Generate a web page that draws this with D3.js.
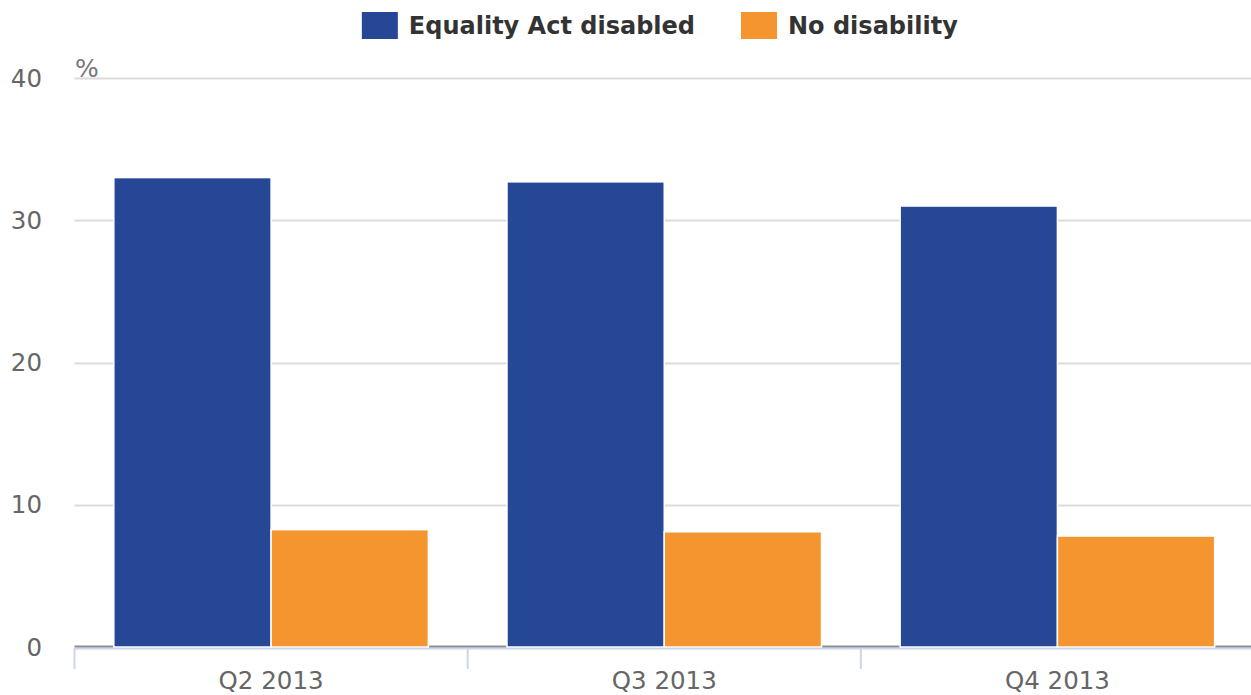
<!DOCTYPE html>
<html><head><meta charset="utf-8">
<script src="https://cdn.jsdelivr.net/npm/d3@7"></script>
<style>body{margin:0;background:#fff}svg{display:block}</style>
</head><body>
<svg id="c" width="1251" height="695"></svg>
<script>
const categories = ["Q2 2013", "Q3 2013", "Q4 2013"];
const seriesNames = ["Equality Act disabled", "No disability"];
const disabled = [33.0, 32.7, 31.0];
const noDisability = [8.25, 8.1, 7.8];
const yTicks = [0, 10, 20, 30, 40];
const colors = ["#264796", "#f59530"];

const svg = d3.select("#c");
const L = 74.5, R = 1254, T = 78, B = 647;
const x = d3.scaleBand().domain(categories).range([L, R]).paddingInner(0).paddingOuter(0);
const y = d3.scaleLinear().domain([0, 40]).range([B, T]);
const sub = d3.scaleBand().domain([0, 1]).range([0, x.bandwidth()]).paddingOuter(0.25).paddingInner(0);

// gridlines
svg.append("g").selectAll("line").data(yTicks.filter(d => d > 0)).join("line")
  .attr("x1", L).attr("x2", R).attr("y1", d => Math.round(y(d)) + 0.5).attr("y2", d => Math.round(y(d)) + 0.5)
  .attr("stroke", "#dcdcdc").attr("stroke-width", 2);

// y labels
svg.append("g").selectAll("text").data(yTicks).join("text")
  .attr("x", 42).attr("y", d => y(d)).attr("dy", "0.35em").attr("text-anchor", "end")
  .attr("font-family", "DejaVu Sans").attr("font-size", 24.5).attr("fill", "#666").text(d => d);

svg.append("text").attr("x", 75).attr("y", 77).attr("font-family", "DejaVu Sans")
  .attr("font-size", 25).attr("fill", "#777").text("%");

// x axis line & ticks
svg.append("line").attr("x1", L).attr("x2", R).attr("y1", 648.5).attr("y2", 648.5)
  .attr("stroke", "#ccd6eb").attr("stroke-width", 2);
const bounds = categories.map(c => x(c));
svg.append("g").selectAll("line").data(bounds).join("line")
  .attr("x1", d => d).attr("x2", d => d).attr("y1", 648).attr("y2", 669)
  .attr("stroke", "#ccd6eb").attr("stroke-width", 2);

// zero line
svg.append("line").attr("x1", L).attr("x2", R).attr("y1", y(0) - 0.5).attr("y2", y(0) - 0.5)
  .attr("stroke", "#8a8f94").attr("stroke-width", 2);

// bars
const rows = categories.map((c, i) => ({c, vals: [disabled[i], noDisability[i]]}));
const g = svg.append("g").selectAll("g").data(rows).join("g").attr("transform", d => `translate(${x(d.c)},0)`);
g.selectAll("rect").data(d => d.vals.map((v, k) => ({v, k}))).join("rect")
  .attr("x", d => sub(d.k)).attr("width", sub.bandwidth())
  .attr("y", d => y(d.v)).attr("height", d => y(0) - y(d.v))
  .attr("fill", d => colors[d.k]).attr("stroke", "#fff").attr("stroke-width", 1.5);

// x labels
svg.append("g").selectAll("text").data(categories).join("text")
  .attr("x", d => x(d) + x.bandwidth() / 2).attr("y", 689).attr("text-anchor", "middle")
  .attr("font-family", "DejaVu Sans").attr("font-size", 24.5).attr("fill", "#666").text(d => d);

// legend
const lg = svg.append("g");
const items = lg.selectAll("g").data(seriesNames).join("g");
items.append("rect").attr("width", 36).attr("height", 27).attr("y", 12)
  .attr("fill", (d, i) => colors[i]);
items.append("text").attr("x", 47).attr("y", 34).attr("font-family", "DejaVu Sans")
  .attr("font-weight", "bold").attr("font-size", 24).attr("fill", "#333").text(d => d);
let widths = [];
items.each(function() { widths.push(this.getBBox().width); });
const gap = 46;
const total = widths.reduce((a, b) => a + b, 0) + gap;
let cx = 660 - total / 2;
items.attr("transform", (d, i) => { const t = `translate(${cx},0)`; cx += widths[i] + gap; return t; });
</script>
</body></html>
